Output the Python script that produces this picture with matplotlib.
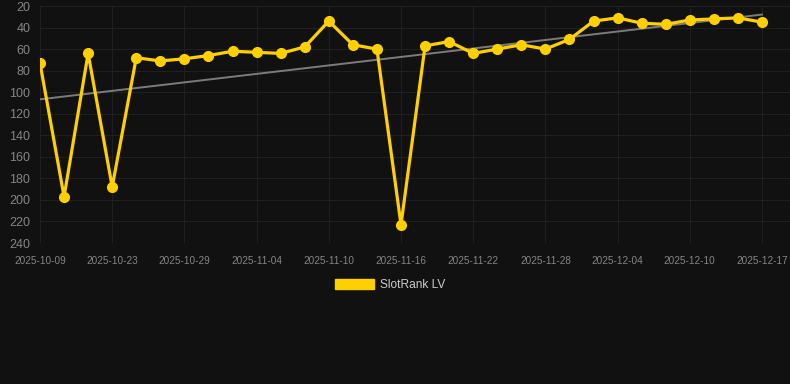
import matplotlib
matplotlib.use('Agg')
import matplotlib.pyplot as plt
import numpy as np
from matplotlib.patches import Patch

# dates (category axis, every 3rd one is labelled)
dates = ['2025-10-09', '2025-10-19', '2025-10-21', '2025-10-23', '2025-10-25', '2025-10-27',
         '2025-10-29', '2025-10-31', '2025-11-02', '2025-11-04', '2025-11-06', '2025-11-08',
         '2025-11-10', '2025-11-12', '2025-11-14', '2025-11-16', '2025-11-18', '2025-11-20',
         '2025-11-22', '2025-11-24', '2025-11-26', '2025-11-28', '2025-11-30', '2025-12-02',
         '2025-12-04', '2025-12-06', '2025-12-08', '2025-12-10', '2025-12-12', '2025-12-15',
         '2025-12-17']
rank = [73, 197, 64, 188, 68, 71, 69, 66, 62, 63, 64, 58, 34, 56, 60, 223,
        57, 53, 64, 60, 56, 60, 51, 34, 31, 36, 37, 33, 32, 31, 35]
series_name = 'SlotRank LV'
y_ticks = [20, 40, 60, 80, 100, 120, 140, 160, 180, 200, 220, 240]

plt.rcParams['font.family'] = ['Liberation Sans', 'DejaVu Sans']

bg = '#111111'
yellow = '#ffd000'
W, H = 790, 384

fig = plt.figure(figsize=(W / 100, H / 100), dpi=100, facecolor=bg)
ax = fig.add_axes([40 / W, 1 - 243 / H, 750 / W, 237 / H], facecolor=bg)

x = np.arange(len(rank))
ax.plot(x, rank, color=yellow, lw=2.3, marker='o', ms=7, zorder=3)

# trend line (least squares)
k, b = np.polyfit(x, rank, 1)
ax.plot(x, k * x + b, color='#888888', lw=1.4, alpha=0.9, zorder=2)

ax.set_ylim(240, 20)
ax.set_xlim(0, 30 + 28 / 24.07)
ax.set_yticks(y_ticks)
ax.set_xticks(x[::3])
ax.set_xticklabels(dates[::3])

ax.grid(True, color='#202020', lw=0.8)
ax.set_axisbelow(True)
for s in ax.spines.values():
    s.set_visible(False)
ax.tick_params(axis='y', length=0, pad=7, labelsize=9, labelcolor='#858585')
ax.tick_params(axis='x', length=0, pad=9, labelsize=7.2, labelcolor='#858585')

handle = Patch(facecolor=yellow, edgecolor=yellow)
fig.legend([handle], [series_name], loc='center', bbox_to_anchor=(390 / W, 1 - 285 / H),
           frameon=False, fontsize=8.6, labelcolor='#cccccc', handlelength=3.3,
           handleheight=1.0, handletextpad=0.5)

fig.savefig('out.png', dpi=100, facecolor=bg)
